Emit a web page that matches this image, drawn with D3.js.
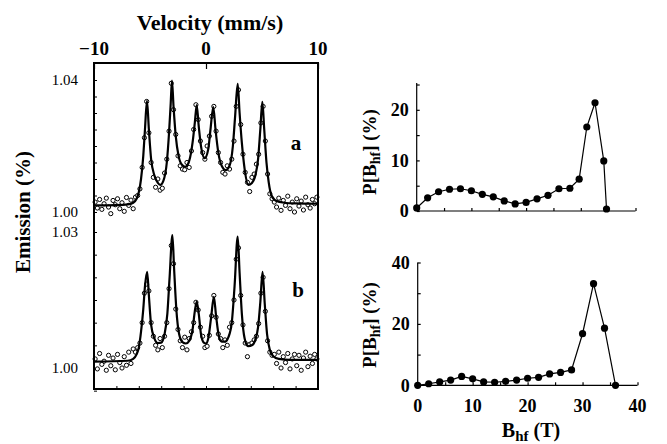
<!DOCTYPE html>
<html>
<head>
<meta charset="utf-8">
<script src="https://cdn.jsdelivr.net/npm/d3@7"></script>
<style>
  body { margin: 0; background: #fff; }
  text { font-family: "Liberation Serif", "Times New Roman", serif; fill: #000; }
</style>
</head>
<body>
<svg id="chart" width="667" height="444"></svg>
<script>
// Mossbauer spectra (left) and hyperfine field distributions (right)

// channel velocities (mm/s) shared by both spectra
var velocity = [
  -9.9, -9.7, -9.5, -9.3, -9.1, -8.9, -8.7, -8.5, -8.3, -8.1,
  -7.9, -7.7, -7.5, -7.3, -7.1, -6.9, -6.7, -6.5, -6.3, -6.1,
  -5.9, -5.7, -5.5, -5.3, -5.1, -4.9, -4.7, -4.5, -4.3, -4.1,
  -3.9, -3.7, -3.5, -3.3, -3.1, -2.9, -2.7, -2.5, -2.3, -2.1,
  -1.9, -1.7, -1.5, -1.3, -1.1, -0.9, -0.7, -0.5, -0.3, -0.1,
  0.1, 0.3, 0.5, 0.7, 0.9, 1.1, 1.3, 1.5, 1.7, 1.9,
  2.1, 2.3, 2.5, 2.7, 2.9, 3.1, 3.3, 3.5, 3.7, 3.9,
  4.1, 4.3, 4.5, 4.7, 4.9, 5.1, 5.3, 5.5, 5.7, 5.9,
  6.1, 6.3, 6.5, 6.7, 6.9, 7.1, 7.3, 7.5, 7.7, 7.9,
  8.1, 8.3, 8.5, 8.7, 8.9, 9.1, 9.3, 9.5, 9.7, 9.9
];

var emissionA = [
  1.0030, 1.0012, 1.0038, 1.0008, 1.0025, 1.0042, 1.0015, 0.9995, 1.0035, 1.0022,
  1.0040, 1.0010, 1.0028, 1.0002, 1.0044, 1.0020, 1.0036, 1.0010, 1.0045, 1.0050,
  1.0070, 1.0135, 1.0225, 1.0335, 1.0240, 1.0150, 1.0105, 1.0075, 1.0100, 1.0066,
  1.0072, 1.0118, 1.0160, 1.0245, 1.0390, 1.0310, 1.0235, 1.0170, 1.0140, 1.0130,
  1.0128, 1.0150, 1.0135, 1.0185, 1.0250, 1.0325, 1.0280, 1.0215, 1.0180, 1.0160,
  1.0200, 1.0230, 1.0290, 1.0320, 1.0245, 1.0180, 1.0150, 1.0120, 1.0115, 1.0140,
  1.0130, 1.0160, 1.0215, 1.0320, 1.0370, 1.0265, 1.0175, 1.0120, 1.0090, 1.0062,
  1.0105, 1.0115, 1.0145, 1.0175, 1.0270, 1.0320, 1.0215, 1.0115, 1.0055, 1.0040,
  1.0030, 1.0015, 1.0042, 1.0005, 1.0035, 1.0020, 1.0048, 1.0010, 1.0030, 1.0000,
  1.0040, 1.0018, 1.0033, 1.0006, 1.0045, 1.0022, 1.0012, 1.0038, 1.0025, 1.0045
];

var emissionB = [
  1.0020, 0.9998, 1.0032, 1.0008, 1.0015, 0.9995, 1.0028, 1.0005, 1.0022, 0.9996,
  1.0030, 1.0012, 1.0000, 1.0025, 1.0006, 1.0035, 1.0010, 1.0042, 1.0035, 1.0045,
  1.0055, 1.0100, 1.0165, 1.0185, 1.0170, 1.0100, 1.0070, 1.0050, 1.0040, 1.0065,
  1.0045, 1.0070, 1.0100, 1.0175, 1.0270, 1.0230, 1.0130, 1.0085, 1.0060, 1.0045,
  1.0068, 1.0040, 1.0065, 1.0080, 1.0100, 1.0145, 1.0128, 1.0090, 1.0070, 1.0045,
  1.0048, 1.0072, 1.0115, 1.0160, 1.0112, 1.0075, 1.0065, 1.0045, 1.0062, 1.0050,
  1.0090, 1.0100, 1.0150, 1.0240, 1.0265, 1.0160, 1.0095, 1.0055, 1.0025, 1.0052,
  1.0055, 1.0062, 1.0070, 1.0098, 1.0165, 1.0200, 1.0125, 1.0060, 1.0035, 1.0028,
  1.0030, 1.0010, 1.0035, 1.0000, 1.0025, 1.0012, 1.0032, 0.9998, 1.0020, 1.0030,
  1.0005, 1.0028, 0.9995, 1.0022, 1.0035, 1.0003, 1.0026, 1.0010, 1.0030, 1.0020
];

// fitted curves
var fitVelA = [
  -10, -8, -7, -6.5, -6.2, -6.0, -5.8, -5.6, -5.45, -5.27,
  -5.1, -4.9, -4.6, -4.3, -4.08, -3.8, -3.5, -3.3, -3.15, -3.04,
  -2.9, -2.7, -2.45, -2.15, -1.85, -1.5, -1.2, -1.0, -0.83, -0.65,
  -0.45, -0.12, 0.2, 0.4, 0.65, 0.85, 1.1, 1.4, 1.76, 2.1,
  2.4, 2.6, 2.83, 3.0, 3.2, 3.45, 3.78, 4.1, 4.4, 4.65,
  4.85, 5.03, 5.2, 5.4, 5.6, 5.85, 6.2, 7, 8, 10
];
var fitA = [
  1.0020, 1.0021, 1.0023, 1.0028, 1.0040, 1.0060, 1.0100, 1.0170, 1.0250, 1.0337,
  1.0250, 1.0160, 1.0110, 1.0088, 1.0082, 1.0095, 1.0150, 1.0240, 1.0330, 1.0398,
  1.0320, 1.0230, 1.0170, 1.0143, 1.0137, 1.0155, 1.0210, 1.0270, 1.0324, 1.0260,
  1.0200, 1.0163, 1.0190, 1.0250, 1.0319, 1.0250, 1.0180, 1.0140, 1.0127, 1.0140,
  1.0200, 1.0290, 1.0388, 1.0300, 1.0210, 1.0130, 1.0082, 1.0088, 1.0110, 1.0160,
  1.0250, 1.0334, 1.0250, 1.0150, 1.0090, 1.0050, 1.0035, 1.0028, 1.0026, 1.0025
];

var fitVelB = [
  -10, -7, -6.5, -6.2, -6.0, -5.8, -5.6, -5.45, -5.25, -5.1,
  -4.9, -4.6, -4.3, -4.0, -3.7, -3.45, -3.25, -3.0, -2.85, -2.65,
  -2.4, -2.1, -1.8, -1.5, -1.2, -1.0, -0.83, -0.65, -0.45, -0.2,
  0.0, 0.2, 0.45, 0.7, 0.9, 1.15, 1.4, 1.7, 2.0, 2.3,
  2.55, 2.83, 3.0, 3.2, 3.45, 3.75, 4.1, 4.4, 4.65, 4.85,
  5.05, 5.25, 5.45, 5.7, 6.0, 6.5, 7.5, 10
];
var fitB = [
  1.0014, 1.0016, 1.0020, 1.0030, 1.0045, 1.0080, 1.0130, 1.0180, 1.0212, 1.0160,
  1.0095, 1.0065, 1.0055, 1.0056, 1.0075, 1.0120, 1.0200, 1.0293, 1.0220, 1.0130,
  1.0075, 1.0057, 1.0054, 1.0060, 1.0085, 1.0125, 1.0146, 1.0120, 1.0075, 1.0056,
  1.0054, 1.0065, 1.0110, 1.0157, 1.0115, 1.0070, 1.0058, 1.0058, 1.0068, 1.0100,
  1.0180, 1.0290, 1.0210, 1.0120, 1.0065, 1.0048, 1.0050, 1.0062, 1.0090, 1.0145,
  1.0212, 1.0140, 1.0075, 1.0040, 1.0026, 1.0020, 1.0018, 1.0018
];

// hyperfine field distributions
var bhfTop = [0, 2, 4, 6, 8, 10, 12, 14, 16, 18, 20, 22, 24, 26, 28, 29.7, 31.1, 32.6, 34.2, 34.7];
var probTop = [0.6, 2.6, 3.8, 4.3, 4.4, 4.0, 3.3, 2.8, 2.0, 1.4, 1.7, 2.4, 3.1, 4.4, 4.5, 6.3, 16.6, 21.4, 9.9, 0.4];
var bhfBottom = [0, 2, 4, 6, 8, 10, 12, 14, 16, 18, 20, 22, 24, 26, 28, 30, 32, 34, 36];
var probBottom = [0, 0.5, 1.1, 1.7, 2.9, 2.1, 1.1, 1.0, 1.3, 1.7, 2.3, 2.6, 3.7, 4.2, 5.0, 16.8, 33.1, 18.6, 0];

// tick labels
var velocityTicks = [-10, 0, 10];
var emissionTicksA = [1.00, 1.04];
var emissionTicksB = [1.00, 1.03];
var probTicksTop = [0, 10, 20];
var probTicksBottom = [0, 20, 40];
var bhfTicks = [0, 10, 20, 30, 40];

var svg = d3.select('#chart');

// ---------- left: spectra ----------
var x = d3.scaleLinear().domain([-10, 10]).range([94, 318]);
var yA = d3.scaleLinear().domain([1.00, 1.04]).range([212, 80]);
var yB = d3.scaleLinear().domain([1.00, 1.03]).range([368, 232]);

var fmtV = d3.format('d');

// top ticks (pointing into the frame) and labels
svg.append('g')
  .attr('transform', 'translate(0,63)')
  .call(d3.axisTop(x).tickValues(velocityTicks).tickSize(-6).tickFormat(''))
  .call(function(g) { g.select('.domain').remove(); })
  .selectAll('line').attr('stroke', '#000').attr('stroke-width', 1.2);

svg.append('g').selectAll('text')
  .data(velocityTicks).enter().append('text')
  .attr('x', function(d) { return x(d); })
  .attr('y', 55)
  .attr('text-anchor', 'middle')
  .style('font-size', '19px').style('font-weight', 'bold')
  .text(function(d) { return fmtV(d); });

svg.append('text')
  .attr('x', 210).attr('y', 30)
  .attr('text-anchor', 'middle')
  .style('font-size', '22px').style('font-weight', 'bold')
  .text('Velocity (mm/s)');

// small inner ticks on the left border
svg.append('g')
  .attr('transform', 'translate(94,0)')
  .call(d3.axisLeft(yA).tickValues(yA.ticks(8)).tickSize(-3).tickFormat(''))
  .call(function(g) { g.select('.domain').remove(); })
  .selectAll('line').attr('stroke', '#000');
svg.append('g')
  .attr('transform', 'translate(94,0)')
  .call(d3.axisLeft(yB).tickValues(yB.ticks(6).concat([0.995])).tickSize(-3).tickFormat(''))
  .call(function(g) { g.select('.domain').remove(); })
  .selectAll('line').attr('stroke', '#000');

// bottom border ticks
svg.append('g')
  .attr('transform', 'translate(0,389)')
  .call(d3.axisBottom(x).ticks(10).tickSize(-3).tickFormat(''))
  .call(function(g) { g.select('.domain').remove(); })
  .selectAll('line').attr('stroke', '#000');

var fmtE = d3.format('.2f');
function emissionLabels(scale, ticks) {
  svg.append('g').selectAll('text')
    .data(ticks).enter().append('text')
    .attr('x', 78)
    .attr('y', function(d) { return scale(d); })
    .attr('dy', '0.35em')
    .attr('text-anchor', 'end')
    .style('font-size', '15px')
    .text(function(d) { return fmtE(d); });
}
emissionLabels(yA, emissionTicksA);
emissionLabels(yB, emissionTicksB);

svg.append('text')
  .attr('transform', 'translate(30,212) rotate(-90)')
  .attr('text-anchor', 'middle')
  .style('font-size', '21px').style('font-weight', 'bold')
  .text('Emission (%)');

function spectrum(yScale, values, fitVel, fitVals) {
  var g = svg.append('g');
  g.selectAll('circle')
    .data(values).enter().append('circle')
    .attr('cx', function(d, i) { return x(velocity[i]); })
    .attr('cy', function(d) { return yScale(d); })
    .attr('r', 2.1)
    .attr('fill', '#fff')
    .attr('stroke', '#000')
    .attr('stroke-width', 1);
  var line = d3.line()
    .x(function(d, i) { return x(fitVel[i]); })
    .y(function(d) { return yScale(d); })
    .curve(d3.curveMonotoneX);
  g.append('path')
    .attr('d', line(fitVals))
    .attr('fill', 'none')
    .attr('stroke', '#000')
    .attr('stroke-width', 2.2);
}
spectrum(yA, emissionA, fitVelA, fitA);
spectrum(yB, emissionB, fitVelB, fitB);

svg.append('rect')
  .attr('x', 94).attr('y', 63).attr('width', 224).attr('height', 326)
  .attr('fill', 'none').attr('stroke', '#000').attr('stroke-width', 2);

svg.append('text').attr('x', 296).attr('y', 150)
  .attr('text-anchor', 'middle')
  .style('font-size', '21px').style('font-weight', 'bold').text('a');
svg.append('text').attr('x', 298).attr('y', 297)
  .attr('text-anchor', 'middle')
  .style('font-size', '21px').style('font-weight', 'bold').text('b');

// ---------- right: P[Bhf] ----------
function distribution(opts) {
  var bx = d3.scaleLinear().domain([0, 40]).range(opts.xRange);
  var by = d3.scaleLinear().domain(opts.yDomain).range(opts.yRange);
  var g = svg.append('g');

  g.append('g')
    .attr('transform', 'translate(0,' + opts.yRange[0] + ')')
    .call(d3.axisBottom(bx).tickValues(d3.range(0, 41, 5)).tickSize(-3).tickFormat(''))
    .call(function(a) {
      a.select('.domain').attr('d', 'M' + opts.xRange[0] + ',0H' + opts.xRange[1]);
    })
    .selectAll('line, path').attr('stroke', '#000').attr('stroke-width', 1.2);

  g.append('g')
    .attr('transform', 'translate(' + opts.xRange[0] + ',0)')
    .call(d3.axisLeft(by).tickValues(opts.minorY).tickSize(-3).tickFormat(''))
    .call(function(a) {
      a.select('.domain').attr('d', 'M0,' + opts.yRange[0] + 'V' + opts.yRange[1]);
    })
    .selectAll('line, path').attr('stroke', '#000').attr('stroke-width', 1.2);

  g.append('g').selectAll('text')
    .data(opts.yTicks).enter().append('text')
    .attr('x', opts.xRange[0] - 8)
    .attr('y', function(d) { return by(d); })
    .attr('dy', '0.35em')
    .attr('text-anchor', 'end')
    .style('font-size', '18px').style('font-weight', 'bold')
    .text(function(d) { return d; });

  if (opts.xLabels) {
    g.append('g').selectAll('text')
      .data(bhfTicks).enter().append('text')
      .attr('x', function(d) { return bx(d); })
      .attr('y', opts.yRange[0] + 27)
      .attr('text-anchor', 'middle')
      .style('font-size', '18px').style('font-weight', 'bold')
      .text(function(d) { return d; });
  }

  var line = d3.line()
    .x(function(d, i) { return bx(opts.bhf[i]); })
    .y(function(d) { return by(d); });
  g.append('path')
    .attr('d', line(opts.prob))
    .attr('fill', 'none').attr('stroke', '#000').attr('stroke-width', 1.2);
  g.selectAll('circle')
    .data(opts.prob).enter().append('circle')
    .attr('cx', function(d, i) { return bx(opts.bhf[i]); })
    .attr('cy', function(d) { return by(d); })
    .attr('r', 3.6)
    .attr('fill', '#000');

  var lab = g.append('text')
    .attr('transform', 'translate(' + opts.labelX + ',' + opts.labelY + ') rotate(-90)')
    .attr('text-anchor', 'middle')
    .style('font-size', '19px').style('font-weight', 'bold');
  lab.append('tspan').text('P[B');
  lab.append('tspan').attr('dy', 4).style('font-size', '14px').text('hf');
  lab.append('tspan').attr('dy', -4).text('] (%)');
}

distribution({
  xRange: [416.7, 635.5], yRange: [211, 83], yDomain: [0, 25.3],
  yTicks: probTicksTop, minorY: [0, 5, 10, 15, 20, 25],
  bhf: bhfTop, prob: probTop, xLabels: false,
  labelX: 376, labelY: 152
});
distribution({
  xRange: [417.7, 637.5], yRange: [385.3, 262.5], yDomain: [0, 40],
  yTicks: probTicksBottom, minorY: [0, 10, 20, 30, 40],
  bhf: bhfBottom, prob: probBottom, xLabels: true,
  labelX: 376, labelY: 325
});

var xl = svg.append('text')
  .attr('x', 531).attr('y', 437)
  .attr('text-anchor', 'middle')
  .style('font-size', '20px').style('font-weight', 'bold');
xl.append('tspan').text('B');
xl.append('tspan').attr('dy', 4).style('font-size', '15px').text('hf');
xl.append('tspan').attr('dy', -4).text(' (T)');
</script>
</body>
</html>
